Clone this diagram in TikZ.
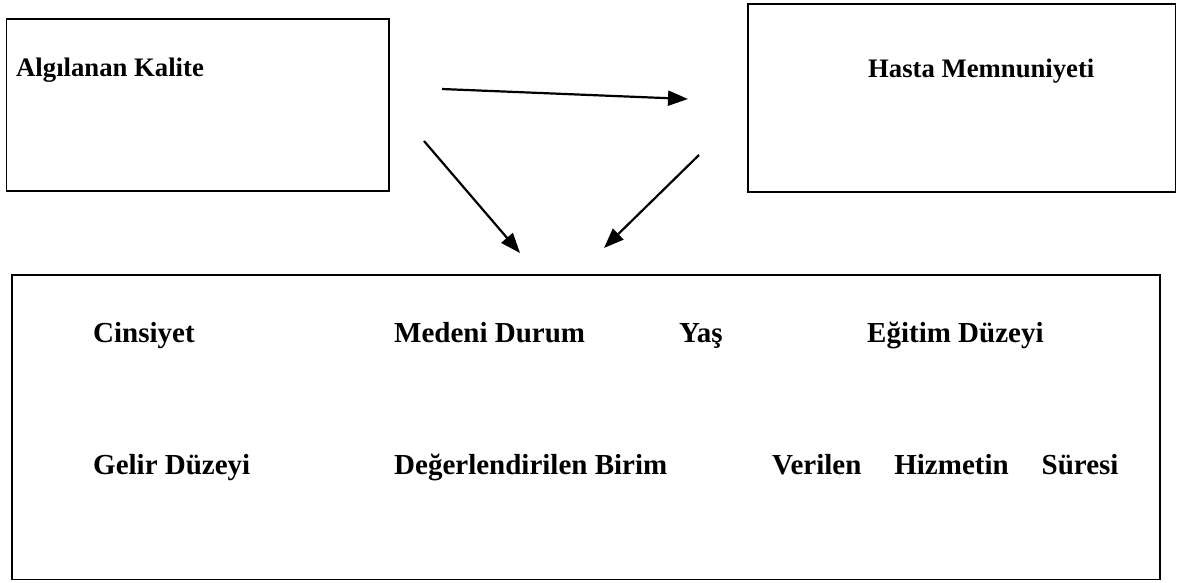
\documentclass[tikz,border=0pt]{standalone}
\usepackage{fontspec}
\setmainfont{Liberation Serif}
\usetikzlibrary{arrows.meta}
\tikzset{
  box/.style={draw=black, line width=1.9pt, inner sep=0pt},
  toplabel/.style={anchor=base west, inner sep=0pt, font=\fontsize{26.7}{32}\selectfont\bfseries},
  botlabel/.style={anchor=base west, inner sep=0pt, font=\fontsize{29}{35}\selectfont\bfseries},
  conn/.style={line width=2.2pt, -{Triangle[length=20pt,width=15pt]}}
}
\begin{document}
\begin{tikzpicture}[x=1pt,y=-1pt]
\useasboundingbox (0,0) rectangle (1189,582);
% boxes
\draw[box] (6.5,18.7) rectangle (388.8,190.7);
\draw[box] (748,4) rectangle (1175.5,192);
\draw[box] (12,275) rectangle (1160,579.5);
% labels
\node[toplabel] (ak) at (16,76) {Algılanan Kalite};
\node[toplabel] (hm) at (868,77) {Hasta Memnuniyeti};
\node[botlabel] (cin) at (93,342) {Cinsiyet};
\node[botlabel] (med) at (394,342) {Medeni Durum};
\node[botlabel] (yas) at (679,342) {Yaş};
\node[botlabel] (egi) at (867,342) {Eğitim Düzeyi};
\node[botlabel] (gel) at (93,474) {Gelir Düzeyi};
\node[botlabel] (deg) at (394,474) {Değerlendirilen Birim};
\node[botlabel] (ver) at (772,474) {Verilen\hspace{33pt}Hizmetin\hspace{33pt}Süresi};
% arrows
\coordinate (a1s) at (442,89);
\coordinate (a1e) at (688,99);
\coordinate (a2s) at (424,141);
\coordinate (a2e) at (520,253);
\coordinate (a3s) at (699,155);
\coordinate (a3e) at (604,248);
\draw[conn] (a1s) -- (a1e);
\draw[conn] (a2s) -- (a2e);
\draw[conn] (a3s) -- (a3e);
\end{tikzpicture}
\end{document}
